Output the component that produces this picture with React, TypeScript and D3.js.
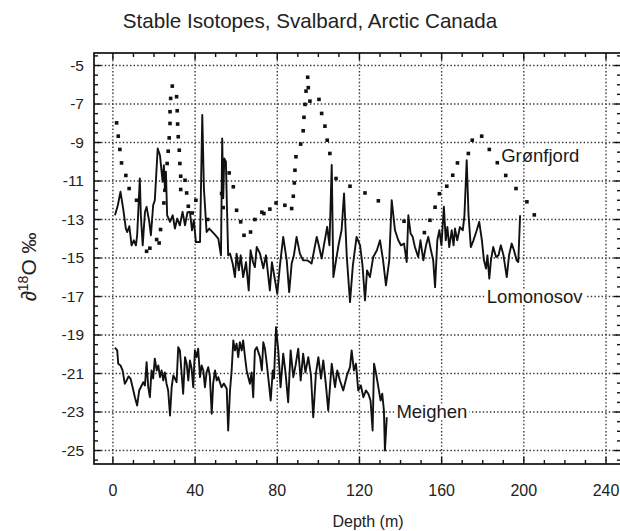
import React, { useRef, useEffect } from 'react';
import * as d3 from 'd3';

// depth (m), delta 18O (per mil)
const lomonosov: [number, number][] = [
  [1.0, -12.78], [2.4, -12.26], [3.7, -11.56], [5.0, -12.43], [6.3, -13.47], [7.0, -13.65], [8.0, -13.35],
  [9.1, -14.34], [10.2, -14.08], [11.2, -14.34], [11.8, -13.82], [13.1, -10.87], [13.6, -12.78], [14.5, -14.34],
  [15.6, -12.61], [16.4, -12.34], [17.7, -13.12], [18.5, -13.82], [19.6, -12.26], [20.4, -12.0], [21.8, -9.31],
  [22.9, -9.66], [24.2, -11.04], [24.8, -10.18], [25.3, -11.39], [25.8, -10.52], [26.4, -12.78], [27.8, -13.12],
  [29.1, -12.78], [30.2, -13.47], [31.3, -12.95], [32.6, -13.3], [33.9, -12.6], [35.1, -13.3], [36.3, -12.62],
  [37.5, -12.61], [38.5, -13.56], [39.4, -13.04], [40.4, -14.17], [42.4, -14.17], [43.5, -7.57], [44.3, -11.39],
  [45.6, -13.65], [46.9, -13.47], [49.2, -13.73], [51.3, -13.99], [52.6, -14.86], [53.2, -8.79], [53.7, -11.9],
  [54.2, -9.83], [55.0, -10.0], [55.5, -12.3], [56.1, -14.86], [57.0, -14.77], [58.3, -15.29], [59.4, -15.99],
  [60.2, -14.77], [61.3, -15.64], [62.2, -14.86], [63.4, -15.99], [64.8, -15.22], [66.1, -16.68], [67.0, -14.6],
  [68.2, -15.22], [69.1, -15.47], [70.0, -14.43], [71.6, -14.77], [73.2, -15.53], [74.5, -14.86], [76.4, -16.68],
  [77.4, -15.22], [78.9, -16.16], [80.0, -16.85], [81.3, -15.38], [82.9, -13.9], [84.6, -15.12], [85.8, -16.77],
  [87.0, -15.29], [88.1, -14.86], [89.4, -13.9], [91.0, -14.77], [92.6, -15.12], [94.6, -15.12], [96.7, -15.29],
  [99.2, -13.9], [100.4, -14.43], [101.6, -15.03], [102.7, -14.34], [104.3, -13.38], [105.4, -14.34], [106.5, -10.17],
  [107.3, -15.99], [108.6, -15.12], [109.8, -14.34], [111.3, -13.56], [112.5, -11.65], [113.8, -14.86], [115.4, -17.29],
  [116.8, -15.38], [118.6, -13.9], [120.3, -14.34], [121.5, -15.4], [122.7, -17.2], [123.7, -15.64], [125.1, -15.99],
  [126.7, -14.95], [128.5, -14.6], [130.0, -14.08], [131.5, -15.12], [132.9, -16.42], [134.5, -15.12], [135.7, -12.0],
  [137.3, -13.56], [138.9, -14.08], [140.2, -14.34], [141.7, -14.25], [143.0, -15.21], [143.8, -12.78], [144.9, -13.73],
  [145.9, -13.9], [147.0, -14.43], [148.6, -14.95], [149.7, -14.08], [151.1, -15.12], [152.4, -14.34], [153.5, -13.9],
  [154.8, -14.6], [155.9, -15.12], [156.8, -16.51], [157.9, -14.08], [158.9, -13.56], [159.9, -14.34], [161.1, -12.34],
  [162.0, -14.08], [162.8, -13.39], [163.7, -14.43], [164.9, -13.56], [165.8, -14.34], [166.5, -13.47], [167.6, -14.08],
  [168.9, -13.39], [170.3, -13.56], [171.1, -12.78], [172.2, -9.92], [173.1, -12.78], [174.2, -14.43], [175.5, -14.08],
  [177.1, -13.56], [178.3, -13.12], [179.6, -14.08], [180.6, -15.12], [181.6, -15.55], [182.3, -14.86], [183.2, -16.07],
  [184.0, -15.12], [185.1, -14.43], [186.5, -14.95], [187.7, -14.86], [188.8, -14.34], [190.1, -14.86], [191.7, -15.99],
  [192.8, -14.86], [194.1, -14.25], [195.2, -14.6], [196.5, -15.12], [197.3, -15.21], [198.2, -12.78],
];

const meighen: [number, number][] = [
  [1.0, -19.66], [2.1, -19.8], [2.6, -20.49], [3.7, -20.58], [4.7, -20.84], [5.8, -21.53], [6.7, -21.36],
  [7.6, -21.15], [8.6, -21.27], [9.6, -21.71], [10.7, -22.23], [11.8, -22.66], [12.8, -21.88], [14.0, -21.62],
  [14.8, -21.45], [15.6, -21.62], [16.4, -20.41], [17.2, -21.71], [18.0, -22.23], [18.8, -20.84], [19.6, -21.26],
  [20.4, -20.23], [21.3, -20.84], [22.1, -20.58], [22.9, -21.19], [23.7, -20.84], [24.5, -21.36], [25.3, -20.94],
  [26.1, -21.53], [26.9, -21.88], [27.8, -23.18], [28.6, -21.71], [29.4, -21.1], [30.2, -21.26], [31.0, -21.45],
  [31.8, -19.63], [32.6, -19.8], [33.4, -20.94], [34.2, -22.05], [35.1, -20.15], [35.9, -20.49], [36.7, -21.36],
  [37.5, -20.32], [38.3, -20.73], [39.1, -21.71], [39.9, -19.8], [40.7, -20.15], [41.5, -19.71], [42.4, -21.19],
  [43.2, -20.58], [44.0, -20.84], [44.8, -21.71], [45.6, -20.94], [46.4, -20.67], [47.2, -21.15], [48.1, -23.09],
  [48.8, -21.53], [49.7, -20.84], [50.5, -21.36], [51.3, -21.19], [52.1, -21.46], [52.9, -21.71], [54.0, -21.52],
  [55.4, -21.79], [56.1, -23.96], [57.0, -21.88], [57.8, -20.84], [58.6, -19.28], [59.4, -19.8], [60.2, -19.45],
  [61.0, -20.15], [61.8, -19.37], [62.7, -19.8], [63.4, -19.28], [64.3, -20.15], [65.1, -20.84], [65.9, -21.19],
  [66.7, -21.53], [67.5, -20.94], [68.3, -22.23], [69.1, -19.8], [70.0, -19.63], [71.6, -20.15], [72.5, -20.84],
  [73.2, -19.37], [74.0, -19.71], [74.7, -20.32], [75.6, -21.19], [76.8, -22.4], [77.8, -20.84], [78.4, -21.26],
  [79.4, -18.59], [80.5, -19.8], [81.6, -21.71], [82.9, -19.97], [84.0, -20.94], [85.3, -22.49], [86.5, -19.8],
  [87.8, -21.19], [88.9, -20.58], [90.2, -19.71], [91.4, -21.36], [92.6, -19.97], [93.7, -20.94], [95.1, -20.15],
  [96.4, -21.1], [97.5, -23.27], [98.8, -21.01], [100.0, -20.15], [101.3, -21.26], [102.4, -20.32], [103.7, -21.62],
  [104.8, -22.92], [106.5, -20.49], [108.1, -21.71], [109.2, -20.84], [110.5, -21.36], [112.1, -21.88], [113.9, -21.1],
  [115.4, -20.67], [116.2, -19.8], [117.3, -20.84], [118.3, -20.49], [119.4, -21.88], [120.7, -21.62], [121.9, -22.23],
  [123.2, -21.88], [124.3, -22.05], [125.4, -22.4], [126.4, -23.96], [127.1, -20.49], [128.0, -20.94], [129.2, -21.71],
  [130.3, -22.4], [131.1, -22.05], [131.9, -22.92], [132.4, -25.0], [133.3, -23.27],
];

const gronfjord: [number, number][] = [
  [1.8, -7.98], [2.6, -8.67], [3.4, -9.36], [4.2, -10.06], [6.3, -10.71], [7.9, -11.39], [11.5, -12.0],
  [16.4, -14.65], [18.0, -14.49], [21.3, -14.04], [22.5, -14.22], [23.2, -13.52], [24.8, -12.14], [25.3, -11.48],
  [26.4, -10.09], [26.9, -9.45], [27.4, -8.76], [27.8, -8.01], [27.8, -7.4], [28.1, -6.71], [28.9, -6.07],
  [31.0, -6.62], [31.3, -7.35], [31.5, -8.04], [31.8, -8.7], [32.3, -9.4], [32.6, -10.09], [33.0, -10.75],
  [33.0, -11.44], [35.1, -10.96], [35.9, -11.62], [36.7, -12.31], [38.6, -12.66], [40.4, -12.0], [46.1, -13.0],
  [52.9, -11.65], [53.7, -12.38], [56.6, -10.58], [58.6, -11.3], [60.2, -12.52], [62.2, -13.12], [63.8, -13.82],
  [67.0, -13.65], [69.1, -13.0], [72.5, -12.62], [73.5, -12.69], [76.4, -12.46], [79.4, -12.14], [83.7, -12.26],
  [87.0, -12.43], [87.8, -11.79], [88.3, -11.1], [88.6, -10.44], [89.1, -9.74], [91.4, -9.08], [92.6, -8.39],
  [93.0, -7.69], [93.5, -7.02], [94.0, -6.33], [94.8, -5.61], [95.1, -6.15], [95.9, -6.85], [100.3, -6.76],
  [101.6, -7.49], [103.2, -8.15], [104.3, -8.88], [105.6, -9.57], [108.6, -10.87], [115.4, -11.27], [122.7, -11.62],
  [129.2, -12.03], [141.7, -13.09], [151.6, -13.68], [154.3, -13.04], [156.8, -12.36], [158.9, -11.66], [162.5, -11.27],
  [165.4, -10.7], [167.7, -10.06], [173.0, -9.57], [174.9, -8.88], [179.5, -8.67], [183.2, -9.36], [187.1, -10.05],
  [191.2, -10.71], [196.2, -11.39], [201.5, -12.08], [205.1, -12.76],
];

const xTicks = [0, 40, 80, 120, 160, 200, 240];
const yTicks = [-5, -7, -9, -11, -13, -15, -17, -19, -21, -23, -25];

// series labels: [text, depth, value]
const seriesLabels: [string, number, number][] = [
  ['Grønfjord', 189, -9.65],
  ['Lomonosov', 182, -17],
  ['Meighen', 138, -23],
];

const W = 620;
const H = 531;
const FONT = "'Liberation Sans', Arial, Helvetica, sans-serif";

const App: React.FC = () => {
  const svgRef = useRef<SVGSVGElement | null>(null);

  useEffect(() => {
    if (!svgRef.current) return;
    const svg = d3.select(svgRef.current);
    svg.selectAll('*').remove();

    const left = 94, right = 621, top = 53, bottom = 464;

    const x = d3.scaleLinear().domain([-9.2, 247.3]).range([left, right]);
    const y = d3.scaleLinear().domain([-4.35, -25.7]).range([top, bottom]);

    svg.append('defs').append('clipPath').attr('id', 'plot')
      .append('rect').attr('x', left).attr('y', top).attr('width', right - left).attr('height', bottom - top);

    const g = svg.append('g');

    // dotted grid
    g.append('g').selectAll('line').data(xTicks).enter().append('line')
      .attr('x1', d => x(d)).attr('x2', d => x(d))
      .attr('y1', top).attr('y2', bottom)
      .attr('stroke', '#333').attr('stroke-width', 1.4)
      .attr('stroke-dasharray', '1.4,2.2');
    g.append('g').selectAll('line').data(yTicks).enter().append('line')
      .attr('x1', left).attr('x2', right)
      .attr('y1', d => y(d)).attr('y2', d => y(d))
      .attr('stroke', '#333').attr('stroke-width', 1.4)
      .attr('stroke-dasharray', '1.4,2.2');

    // ticks on all four sides
    const xMinor = d3.range(0, 250, 10);
    const yMinor = d3.range(-4.5, -25.75, -0.5);
    const tk = g.append('g').attr('stroke', '#111').attr('stroke-width', 1.4);
    xMinor.forEach(d => {
      const len = d % 40 === 0 ? 7 : 4;
      tk.append('line').attr('x1', x(d)).attr('x2', x(d)).attr('y1', bottom).attr('y2', bottom - len);
      tk.append('line').attr('x1', x(d)).attr('x2', x(d)).attr('y1', top).attr('y2', top + len);
    });
    yMinor.forEach(d => {
      const len = Math.abs(d) % 2 === 1 ? 7 : 4;
      tk.append('line').attr('x1', left).attr('x2', left + len).attr('y1', y(d)).attr('y2', y(d));
      tk.append('line').attr('x1', right).attr('x2', right - len).attr('y1', y(d)).attr('y2', y(d));
    });

    // frame
    g.append('rect')
      .attr('x', left).attr('y', top).attr('width', right - left).attr('height', bottom - top)
      .attr('fill', 'none').attr('stroke', '#111').attr('stroke-width', 1.7);

    const plot = g.append('g').attr('clip-path', 'url(#plot)');

    const line = d3.line<[number, number]>()
      .x(d => x(d[0]))
      .y(d => y(d[1]));

    [lomonosov, meighen].forEach(series => {
      plot.append('path')
        .datum(series)
        .attr('fill', 'none')
        .attr('stroke', '#111')
        .attr('stroke-width', 1.9)
        .attr('stroke-linejoin', 'round')
        .attr('d', line);
    });

    plot.selectAll('.gdot').data(gronfjord).enter().append('rect')
      .attr('class', 'gdot')
      .attr('x', d => x(d[0]) - 1.8)
      .attr('y', d => y(d[1]) - 1.8)
      .attr('width', 3.6).attr('height', 3.6)
      .attr('fill', '#111');

    // series labels with white backing
    seriesLabels.forEach(([label, dx, vy]) => {
      const t = g.append('text')
        .attr('x', x(dx)).attr('y', y(vy))
        .attr('dy', '0.35em')
        .attr('font-family', FONT).attr('font-size', 18.5)
        .attr('fill', '#1a1a1a')
        .text(label);
      const bb = (t.node() as SVGTextElement).getBBox();
      g.insert('rect', () => t.node() as SVGTextElement)
        .attr('x', bb.x - 2).attr('y', bb.y + 3)
        .attr('width', bb.width + 4).attr('height', bb.height - 6)
        .attr('fill', 'white');
    });

    // tick labels
    svg.append('g').selectAll('text').data(yTicks).enter().append('text')
      .attr('x', 84).attr('y', d => y(d)).attr('dy', '0.35em')
      .attr('text-anchor', 'end')
      .attr('font-family', FONT).attr('font-size', 15.5).attr('fill', '#222')
      .text(d => d);
    svg.append('g').selectAll('text').data(xTicks).enter().append('text')
      .attr('x', d => x(d)).attr('y', 496)
      .attr('text-anchor', 'middle')
      .attr('font-family', FONT).attr('font-size', 16).attr('fill', '#222')
      .text(d => d);

    // titles
    svg.append('text')
      .attr('x', 310).attr('y', 28)
      .attr('text-anchor', 'middle')
      .attr('font-family', FONT).attr('font-size', 20.6).attr('fill', '#222')
      .text('Stable Isotopes, Svalbard, Arctic Canada');

    svg.append('text')
      .attr('x', 368).attr('y', 527)
      .attr('text-anchor', 'middle')
      .attr('font-family', FONT).attr('font-size', 16).attr('fill', '#222')
      .text('Depth (m)');

    const yl = svg.append('text')
      .attr('transform', 'translate(36,267) rotate(-90)')
      .attr('text-anchor', 'middle')
      .attr('font-family', FONT).attr('font-size', 21).attr('fill', '#222');
    yl.append('tspan').text('∂');
    yl.append('tspan').attr('font-size', 14).attr('dy', -8).text('18');
    yl.append('tspan').attr('dy', 8).text('O ‰');
  }, []);

  return (
    <svg
      ref={svgRef}
      width={W}
      height={H}
      style={{ position: 'absolute', left: 0, top: 0, background: 'white' }}
    />
  );
};

export default App;
